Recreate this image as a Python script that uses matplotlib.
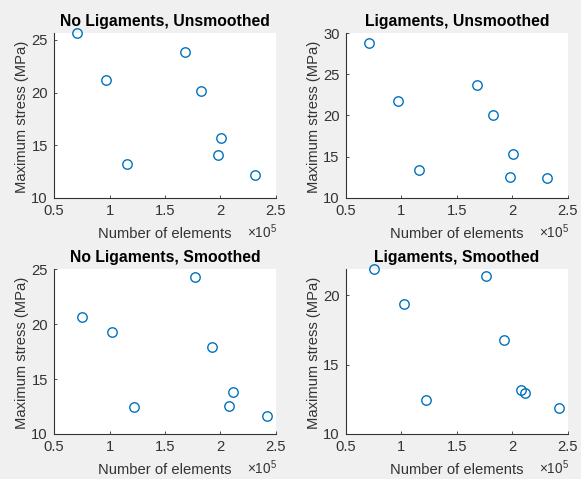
import matplotlib.pyplot as plt
from matplotlib.ticker import FuncFormatter

# number of elements
elems_unsmoothed = [0.708e5, 0.968e5, 1.155e5, 1.68e5, 1.822e5, 2.005e5, 1.98e5, 2.31e5]
elems_smoothed = [0.752e5, 1.025e5, 1.218e5, 1.766e5, 1.92e5, 2.113e5, 2.078e5, 2.417e5]
elems_smoothed_lig = [0.752e5, 1.025e5, 1.218e5, 1.766e5, 1.92e5, 2.078e5, 2.115e5, 2.417e5]

# maximum stress (MPa)
stress_nolig_unsmoothed = [25.66, 21.21, 13.19, 23.83, 20.14, 15.72, 14.10, 12.18]
stress_lig_unsmoothed = [28.74, 21.8, 13.37, 23.75, 20.02, 15.27, 12.52, 12.43]
stress_nolig_smoothed = [20.63, 19.32, 12.43, 24.27, 17.96, 13.86, 12.52, 11.67]
stress_lig_smoothed = [21.86, 19.37, 12.41, 21.4, 16.77, 13.16, 12.92, 11.90]

titles = ["No Ligaments, Unsmoothed", "Ligaments, Unsmoothed",
          "No Ligaments, Smoothed", "Ligaments, Smoothed"]
xdata = [elems_unsmoothed, elems_unsmoothed, elems_smoothed, elems_smoothed_lig]
ydata = [stress_nolig_unsmoothed, stress_lig_unsmoothed,
         stress_nolig_smoothed, stress_lig_smoothed]
ylims = [(10, 25.66), (10, 30), (10, 25), (10, 21.86)]
yticks = [[10, 15, 20, 25], [10, 15, 20, 25, 30], [10, 15, 20, 25], [10, 15, 20]]
xticks = [0.5e5, 1e5, 1.5e5, 2e5, 2.5e5]

plt.rcParams['font.family'] = ['Liberation Sans', 'DejaVu Sans']
plt.rcParams['mathtext.fontset'] = 'custom'
plt.rcParams['mathtext.rm'] = 'Liberation Sans'

fig = plt.figure(figsize=(5.81, 4.79), dpi=100, facecolor='#f0f0f0')
positions = [[0.093, 0.587, 0.382, 0.344], [0.5955, 0.587, 0.382, 0.344],
             [0.093, 0.094, 0.382, 0.344], [0.5955, 0.094, 0.382, 0.344]]
gray = '#333333'
fs = 10.6


def sci5(v, pos):
    return '%g' % (v / 1e5)


for i in range(4):
    ax = fig.add_axes(positions[i])
    ax.plot(xdata[i], ydata[i], 'o', mfc='none', mec='#0072BD',
            markersize=6.8, mew=1.0, clip_on=False)
    ax.set_xlim(0.5e5, 2.5e5)
    ax.set_ylim(*ylims[i])
    ax.set_xticks(xticks)
    ax.set_yticks(yticks[i])
    ax.xaxis.set_major_formatter(FuncFormatter(sci5))
    ax.spines['top'].set_visible(False)
    ax.spines['right'].set_visible(False)
    for s in ['left', 'bottom']:
        ax.spines[s].set_color(gray)
        ax.spines[s].set_linewidth(0.8)
    ax.tick_params(direction='in', length=2, width=0.6, colors=gray,
                   labelsize=fs, pad=4.5)
    ax.set_xlabel('Number of elements', fontsize=fs, color=gray, va='baseline')
    ax.xaxis.set_label_coords(0.5, -0.245)
    ax.text(1.005, -0.245, r'$\times10^5$', transform=ax.transAxes,
            ha='right', va='baseline', fontsize=fs - 0.8, color=gray)
    ax.set_ylabel('Maximum stress (MPa)', fontsize=fs, color=gray,
                  va='center', ha='center')
    ax.yaxis.set_label_coords(-0.143, 0.49)
    ax.set_title(titles[i], fontsize=11.3, fontweight='bold', pad=5)

fig.savefig('out.png', dpi=100, facecolor=fig.get_facecolor())
